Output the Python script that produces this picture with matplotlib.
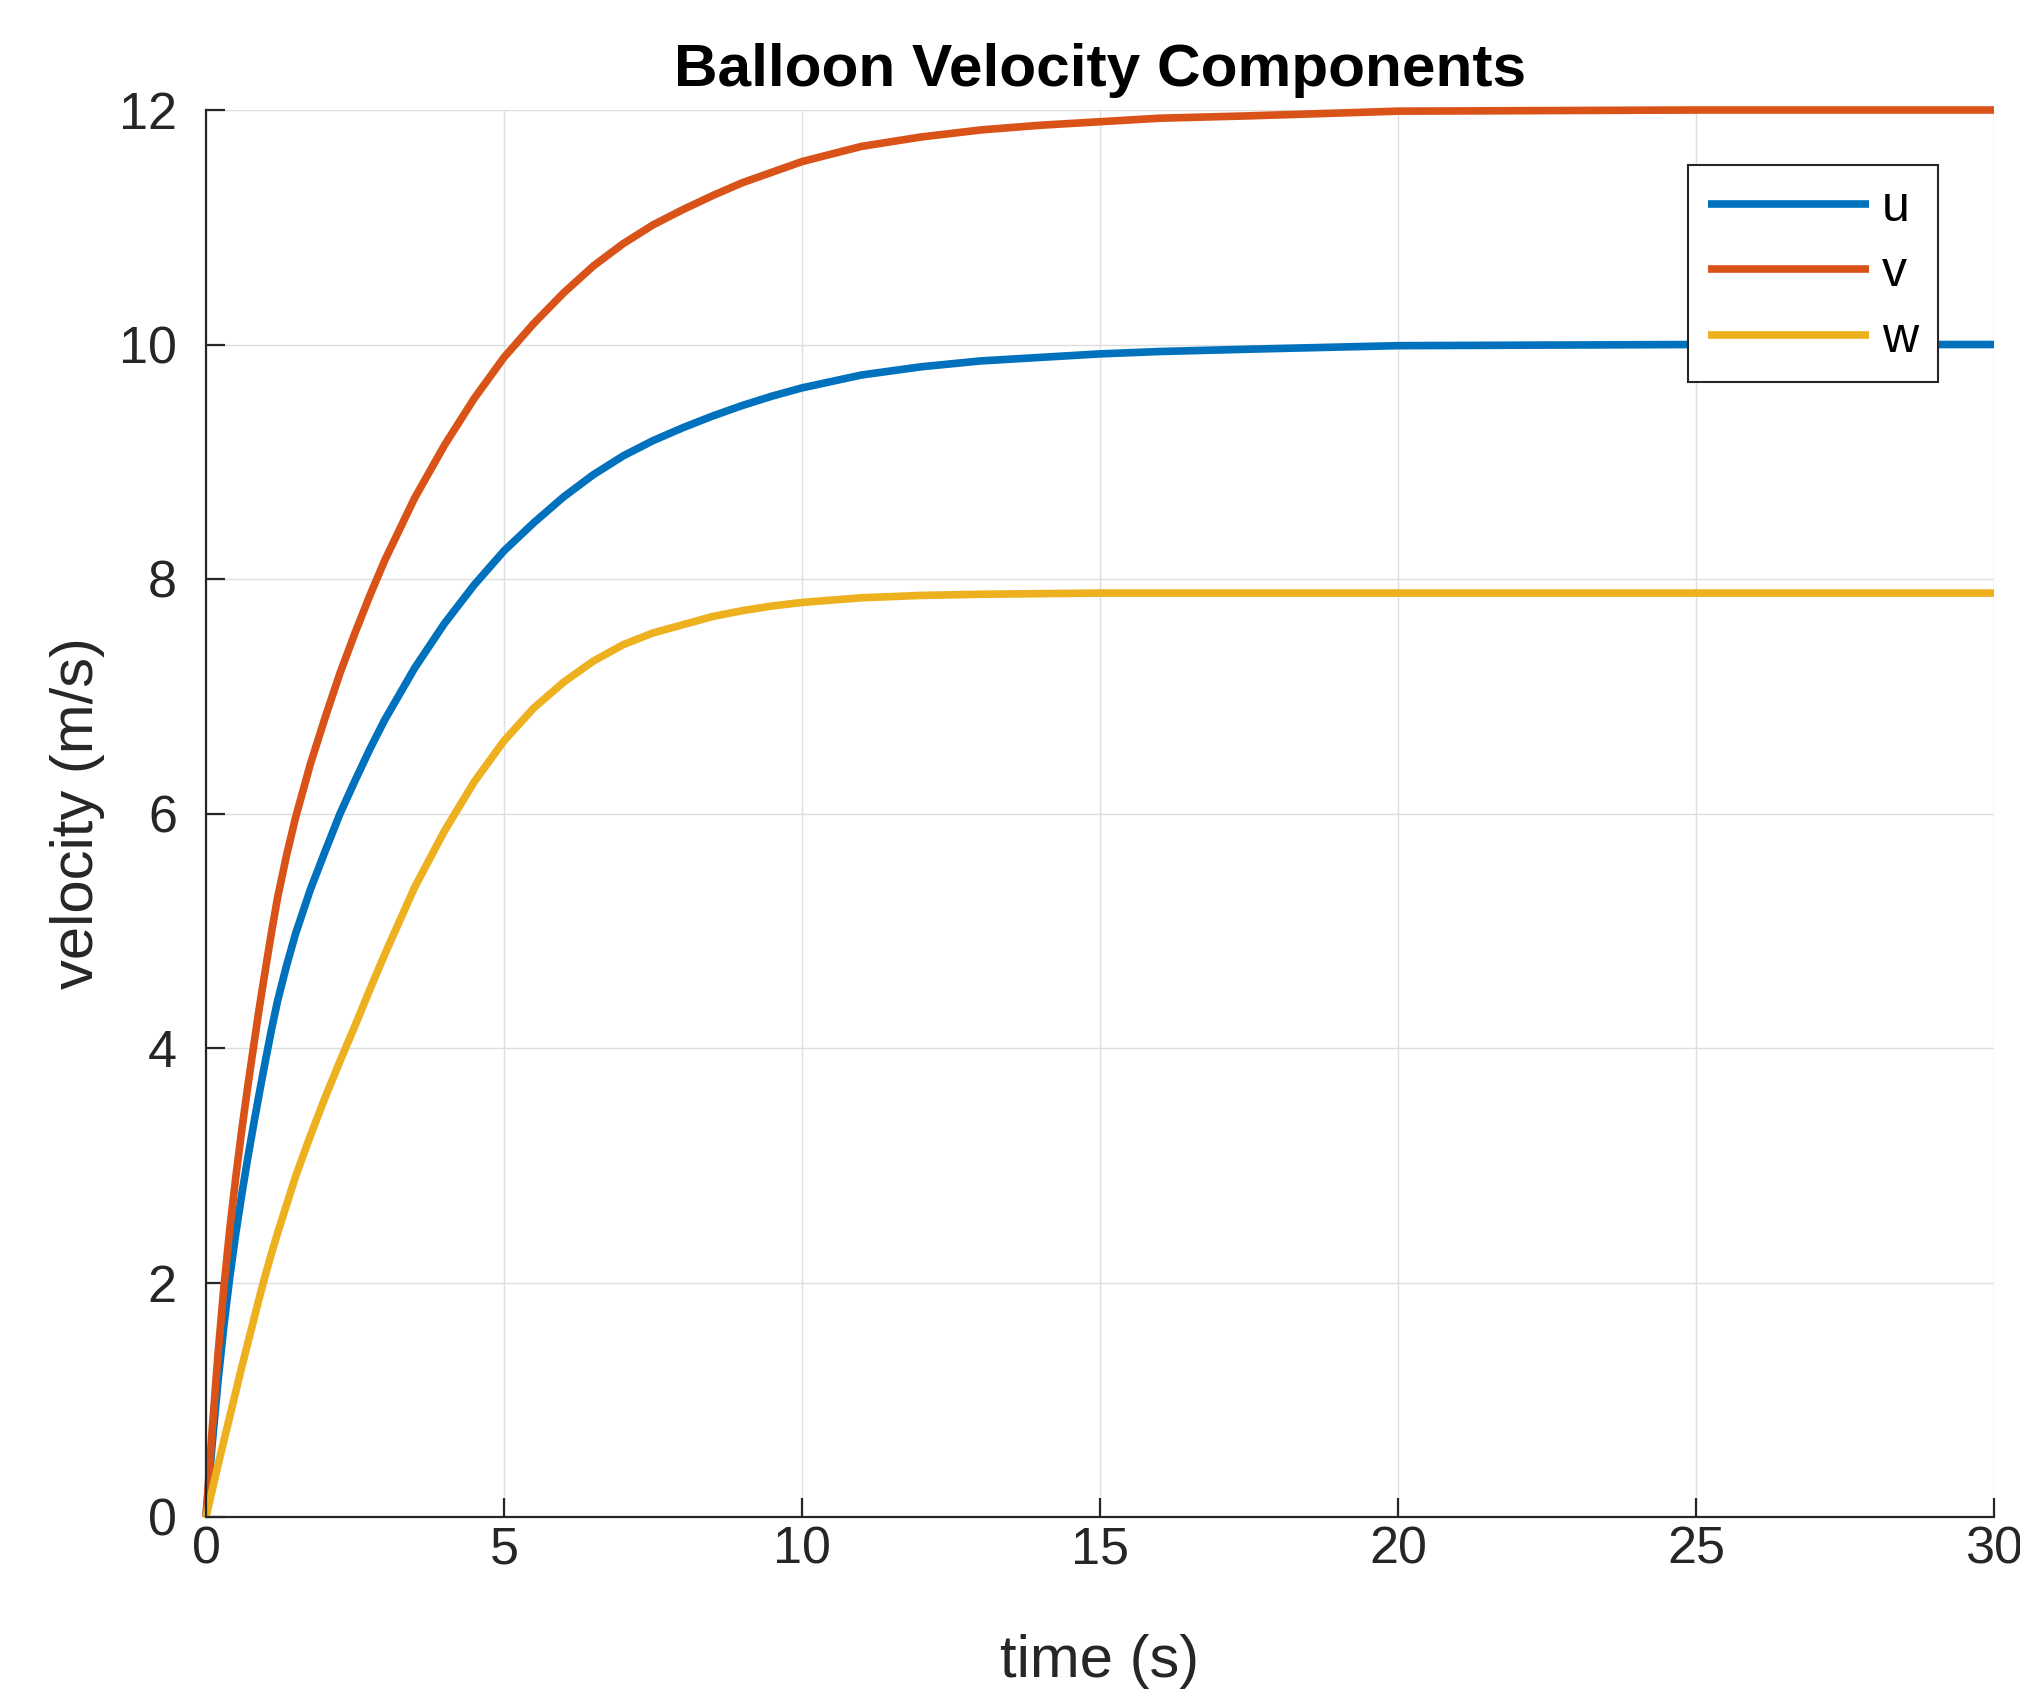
import matplotlib
matplotlib.use("Agg")
import matplotlib.pyplot as plt

# Balloon velocity components
time_s = [0, 0.1, 0.2, 0.3, 0.4, 0.5, 0.6, 0.7, 0.8, 0.9, 1.0, 1.1, 1.2, 1.35, 1.5,
          1.75, 2, 2.25, 2.5, 2.75, 3, 3.5, 4, 4.5, 5, 5.5, 6, 6.5, 7, 7.5,
          8, 8.5, 9, 9.5, 10, 11, 12, 13, 14, 15, 16, 17.5, 20, 22.5, 25, 30]

u_vel = [0, 0.6, 1.15, 1.63, 2.05, 2.42, 2.75, 3.06, 3.35, 3.63, 3.9, 4.16, 4.4, 4.7, 4.97,
         5.35, 5.68, 6.0, 6.28, 6.55, 6.8, 7.24, 7.62, 7.95, 8.24, 8.48, 8.7, 8.89, 9.05, 9.18,
         9.29, 9.39, 9.48, 9.56, 9.63, 9.74, 9.81, 9.86, 9.89, 9.92, 9.94, 9.96, 9.99, 9.995, 10.0, 10.0]

v_vel = [0, 0.72, 1.38, 1.96, 2.46, 2.9, 3.3, 3.67, 4.02, 4.36, 4.68, 4.99, 5.28, 5.64, 5.96,
         6.42, 6.82, 7.2, 7.54, 7.86, 8.16, 8.69, 9.14, 9.54, 9.89, 10.18, 10.44, 10.67, 10.86, 11.02,
         11.15, 11.27, 11.38, 11.47, 11.56, 11.69, 11.77, 11.83, 11.87, 11.9, 11.93, 11.95, 11.99, 11.995, 12.0, 12.0]

w_vel = [0, 0.22, 0.44, 0.65, 0.86, 1.07, 1.28, 1.48, 1.68, 1.88, 2.07, 2.25, 2.42, 2.66, 2.9,
         3.25, 3.58, 3.89, 4.19, 4.5, 4.8, 5.37, 5.85, 6.27, 6.62, 6.9, 7.12, 7.3, 7.44, 7.54,
         7.61, 7.68, 7.73, 7.77, 7.8, 7.84, 7.86, 7.87, 7.875, 7.88, 7.88, 7.88, 7.88, 7.88, 7.88, 7.88]

series = [u_vel, v_vel, w_vel]
labels = ["u", "v", "w"]
colors = ["#0072BD", "#D95319", "#EDB120"]

x_ticks = [0, 5, 10, 15, 20, 25, 30]
y_ticks = [0, 2, 4, 6, 8, 10, 12]

plt.rcParams['font.family'] = ['Liberation Sans', 'DejaVu Sans']

W, H = 2020, 1693
fig = plt.figure(figsize=(W / 100, H / 100), dpi=100)
ax = fig.add_axes([206 / W, 1 - 1517 / H, 1788 / W, 1407 / H])

for vals, lab, col in zip(series, labels, colors):
    ax.plot(time_s, vals, color=col, lw=5.5, label=lab, clip_on=False,
            solid_capstyle='butt')

ax.set_xlim(0, 30)
ax.set_ylim(0, 12)
ax.set_xticks(x_ticks)
ax.set_yticks(y_ticks)

ax.grid(True, color='#dedede', lw=1.0)
ax.set_axisbelow(True)

for s in ['top', 'right']:
    ax.spines[s].set_visible(False)
for s in ['left', 'bottom']:
    ax.spines[s].set_color('#262626')
    ax.spines[s].set_linewidth(1.6)

ax.tick_params(direction='in', length=14, width=1.6, colors='#262626', labelsize=37.5)
ax.tick_params(axis='x', pad=6)
ax.tick_params(axis='y', pad=21)

ax.set_xlabel('time (s)', fontsize=43, color='#262626', va='baseline')
ax.xaxis.set_label_coords(0.5, -0.1137)
ax.set_ylabel('velocity (m/s)', fontsize=43, color='#262626', va='baseline')
ax.yaxis.set_label_coords(-0.0632, 0.5)

ax.set_title('Balloon Velocity Components', fontsize=43.5, fontweight='bold',
             y=1.0171, pad=0)

leg = ax.legend(loc='upper right', bbox_to_anchor=(1938 / W, 1 - 165 / H),
                bbox_transform=fig.transFigure, borderaxespad=0, fontsize=36,
                handlelength=3.22, handletextpad=0.26, labelspacing=0.39,
                borderpad=0.4, fancybox=False, framealpha=1, edgecolor='#262626')
leg.get_frame().set_linewidth(1.5)

fig.savefig('out.png', dpi=100)
